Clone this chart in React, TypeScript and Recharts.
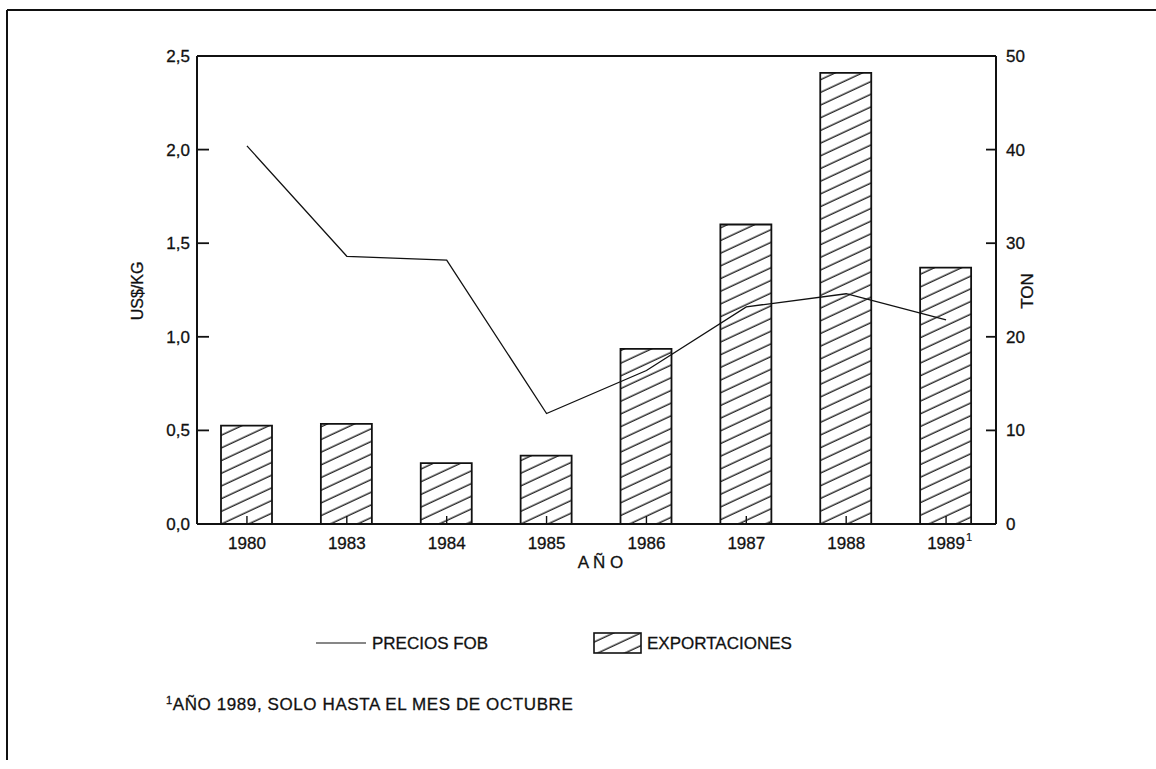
import React from 'react';
import { ComposedChart, Bar, Line, XAxis, YAxis, ReferenceLine } from 'recharts';

const years = ['1980', '1983', '1984', '1985', '1986', '1987', '1988', '1989¹'];
const preciosFob = [2.02, 1.43, 1.41, 0.59, 0.82, 1.16, 1.23, 1.09];
const exportaciones = [10.5, 10.7, 6.5, 7.3, 18.7, 32.0, 48.2, 27.4];

const leftTicks = [0, 0.5, 1, 1.5, 2, 2.5];
const leftTickLabels = ['0,0', '0,5', '1,0', '1,5', '2,0', '2,5'];
const rightTicks = [0, 10, 20, 30, 40, 50];
const rightTickLabels = ['0', '10', '20', '30', '40', '50'];

const seriesNames = ['PRECIOS FOB', 'EXPORTACIONES'];
const footnoteMark = '1';
const footnoteText = 'AÑO 1989, SOLO HASTA EL MES DE OCTUBRE';
const xAxisTitle = 'A Ñ O';
const leftAxisTitle = 'US$/KG';
const rightAxisTitle = 'TON';

const data = years.map((y, i) => ({ year: y, precio: preciosFob[i], exportacion: exportaciones[i] }));

const FONT = '"Liberation Sans", Arial, Helvetica, sans-serif';
const INK = '#111';
const FS = 17;
const textStyle = { fontFamily: FONT, fontSize: FS, fill: INK, stroke: INK, strokeWidth: 0.3 } as const;

const HatchDef = ({ id }: { id: string }) => (
  <defs>
    <pattern id={id} patternUnits="userSpaceOnUse" width="12" height="11.5" patternTransform="rotate(-25)">
      <line x1="-2" y1="5" x2="14" y2="5" stroke={INK} strokeWidth="1.3" />
    </pattern>
  </defs>
);

const LeftTick = (props: any) => {
  const { x, y, payload, index } = props;
  const v = payload.value;
  const inner = v > 0 && v < 2.5;
  return (
    <g>
      {inner && <line x1={x} x2={x + 12} y1={y} y2={y} stroke={INK} strokeWidth={1.8} />}
      <text x={x - 7} y={y} dy="0.35em" textAnchor="end" {...textStyle}>
        {leftTickLabels[index] ?? String(v)}
      </text>
    </g>
  );
};

const RightTick = (props: any) => {
  const { x, y, payload, index } = props;
  const v = payload.value;
  const inner = v > 0 && v < 50;
  return (
    <g>
      {inner && <line x1={x - 10} x2={x} y1={y} y2={y} stroke={INK} strokeWidth={1.8} />}
      <text x={x + 10} y={y} dy="0.35em" textAnchor="start" {...textStyle}>
        {rightTickLabels[index] ?? String(v)}
      </text>
    </g>
  );
};

const BottomTick = (props: any) => {
  const { x, y, payload } = props;
  const raw: string = String(payload.value);
  const hasMark = raw.endsWith('¹');
  const base = hasMark ? raw.slice(0, -1) : raw;
  return (
    <g>
      <line x1={x} x2={x} y1={y} y2={y - 8} stroke={INK} strokeWidth={1.4} />
      <text x={x} y={y + 25} textAnchor="middle" {...textStyle}>
        {base}
      </text>
      {hasMark && (
        <text x={x + 20} y={y + 17} textAnchor="start" {...textStyle} fontSize={11} strokeWidth={0.2}>
          1
        </text>
      )}
    </g>
  );
};

const XTitle = (props: any) => {
  const vb = props.viewBox || {};
  return (
    <text x={vb.x + vb.width / 2 + 4} y={vb.y + 44} textAnchor="middle" {...textStyle}>
      {xAxisTitle}
    </text>
  );
};

const LeftTitle = (props: any) => {
  const vb = props.viewBox || {};
  const cx = vb.x;
  const cy = vb.y + vb.height / 2 + 1;
  return (
    <text x={cx} y={cy} transform={`rotate(-90 ${cx} ${cy})`} textAnchor="middle" dominantBaseline="central" {...textStyle} fontSize={16}>
      {leftAxisTitle}
    </text>
  );
};

const RightTitle = (props: any) => {
  const vb = props.viewBox || {};
  const cx = vb.x + 31;
  const cy = vb.y + vb.height / 2 + 1;
  return (
    <text x={cx} y={cy} transform={`rotate(-90 ${cx} ${cy})`} textAnchor="middle" dominantBaseline="central" {...textStyle}>
      {rightAxisTitle}
    </text>
  );
};

export default function App() {
  return (
    <div style={{ position: 'absolute', left: 0, top: 0, width: 1156, height: 769, background: '#fff' }}>
      <svg width={1156} height={769} style={{ position: 'absolute', left: 0, top: 0 }}>
        <HatchDef id="hatchLegend" />
        {/* page frame */}
        <line x1={7} y1={10} x2={1156} y2={10} stroke={INK} strokeWidth={2} />
        <line x1={7} y1={10} x2={7} y2={760} stroke={INK} strokeWidth={2} />
        {/* legend */}
        <line x1={316} y1={643} x2={366} y2={643} stroke={INK} strokeWidth={1.2} />
        <text x={372} y={649} {...textStyle}>{seriesNames[0]}</text>
        <rect x={594} y={633} width={47} height={20} fill="url(#hatchLegend)" stroke={INK} strokeWidth={1.6} />
        <text x={647} y={649} {...textStyle}>{seriesNames[1]}</text>
        {/* footnote */}
        <text x={166} y={710} {...textStyle} letterSpacing={0.6}>
          <tspan fontSize={11} dy={-6}>{footnoteMark}</tspan>
          <tspan dy={6}>{footnoteText}</tspan>
        </text>
      </svg>
      <div style={{ position: 'absolute', left: 0, top: 0 }}>
        <ComposedChart
          width={1156}
          height={769}
          data={data}
          margin={{ top: 56, right: 100, bottom: 215, left: 137 }}
          barCategoryGap={0}
        >
          <HatchDef id="hatchBar" />
          <XAxis
            dataKey="year"
            xAxisId="x"
            height={30}
            tickSize={0}
            tickMargin={0}
            tickLine={false}
            axisLine={{ stroke: INK, strokeWidth: 2 }}
            tick={<BottomTick />}
            interval={0}
            label={<XTitle />}
          />
          <YAxis
            yAxisId="left"
            orientation="left"
            width={60}
            domain={[0, 2.5]}
            ticks={leftTicks}
            tickSize={0}
            tickMargin={0}
            tickLine={false}
            axisLine={{ stroke: INK, strokeWidth: 2 }}
            tick={<LeftTick />}
            interval={0}
            label={<LeftTitle />}
          />
          <YAxis
            yAxisId="right"
            orientation="right"
            width={60}
            domain={[0, 50]}
            ticks={rightTicks}
            tickSize={0}
            tickMargin={0}
            tickLine={false}
            axisLine={{ stroke: INK, strokeWidth: 2 }}
            tick={<RightTick />}
            interval={0}
            label={<RightTitle />}
          />
          <ReferenceLine yAxisId="left" xAxisId="x" y={2.5} stroke={INK} strokeWidth={2} />
          <Bar
            xAxisId="x"
            yAxisId="right"
            dataKey="exportacion"
            name={seriesNames[1]}
            fill="url(#hatchBar)"
            stroke={INK}
            strokeWidth={1.8}
            barSize={51}
            isAnimationActive={false}
          />
          <Line
            xAxisId="x"
            yAxisId="left"
            dataKey="precio"
            name={seriesNames[0]}
            type="linear"
            stroke={INK}
            strokeWidth={1.3}
            dot={false}
            activeDot={false}
            isAnimationActive={false}
          />
        </ComposedChart>
      </div>
    </div>
  );
}
